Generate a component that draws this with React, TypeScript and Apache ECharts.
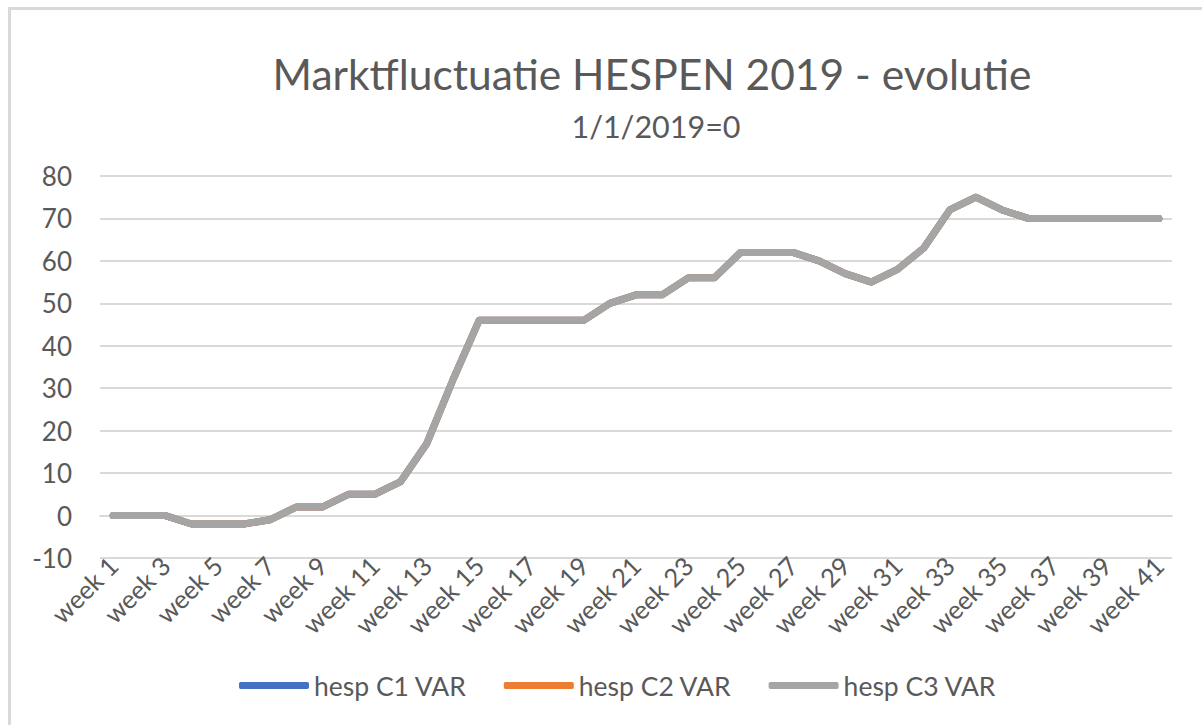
import React, { useEffect, useRef } from "react";
import * as echarts from "echarts";

const weeks: string[] = [];
for (let i = 1; i <= 41; i++) weeks.push("week " + i);

const c3Values = [0, 0, 0, -2, -2, -2, -1, 2, 2, 5, 5, 8, 17, 32, 46, 46, 46, 46, 46, 50, 52, 52, 56, 56, 62, 62, 62, 60, 57, 55, 58, 63, 72, 75, 72, 70, 70, 70, 70, 70, 70];
const c1Values = [0, 0, 0, -2, -2, -2, -1, 2, 2, 5, 5, 8, 17, 32, 46, 46, 46, 46, 46, 50, 52, 52, 56, 56, 62, 62, 62, 60, 57, 55, 58, 63, 72, 75, 72, 70, 70, 70, 70, 70, 70];
const c2Values = [0, 0, 0, -2, -2, -2, -1, 2, 2, 5, 5, 8, 17, 32, 46, 46, 46, 46, 46, 50, 52, 52, 56, 56, 62, 62, 62, 60, 57, 55, 58, 63, 72, 75, 72, 70, 70, 70, 70, 70, 70];
const seriesNames = ["hesp C1 VAR", "hesp C2 VAR", "hesp C3 VAR"];
const colors = ["#4472C4", "#ED7D31", "#A5A5A5"];

const FONT = "Lato, 'Open Sans', sans-serif";

export default function App() {
  const ref = useRef<HTMLDivElement>(null);
  useEffect(() => {
    if (!ref.current) return;
    const chart = echarts.init(ref.current, null, { renderer: "svg" });
    const data = [c1Values, c2Values, c3Values];
    chart.setOption({
      animation: false,
      backgroundColor: "#ffffff",
      textStyle: { fontFamily: FONT },
      title: [
        {
          text: "Marktfluctuatie HESPEN 2019 - evolutie",
          left: 647,
          textAlign: "center",
          top: 47,
          textStyle: { fontFamily: FONT, fontSize: 42.5, fontWeight: "normal", color: "#595959" },
        },
        {
          text: "1/1/2019=0",
          left: 651,
          textAlign: "center",
          top: 105,
          textStyle: { fontFamily: FONT, fontSize: 30.5, fontWeight: "normal", color: "#595959" },
        },
      ],
      graphic: [
        { type: "rect", shape: { x: 8, y: 7, width: 3, height: 718 }, style: { fill: "#d9d9d9" }, silent: true },
        { type: "rect", shape: { x: 8, y: 7, width: 1194, height: 3 }, style: { fill: "#d9d9d9" }, silent: true },
      ],
      legend: {
        left: 234,
        top: 667,
        icon: "roundRect",
        itemWidth: 70,
        itemHeight: 7,
        itemGap: 37,
        data: seriesNames,
        textStyle: { fontFamily: FONT, fontSize: 26.5, color: "#595959" },
      },
      grid: { left: 100, right: 30, top: 176, bottom: 167, containLabel: false },
      xAxis: {
        type: "category",
        data: weeks,
        boundaryGap: true,
        axisLine: { show: true, lineStyle: { color: "#d9d9d9", width: 2 } },
        axisTick: { show: false },
        axisLabel: {
          interval: 1,
          rotate: 45,
          margin: 3,
          fontFamily: FONT,
          fontSize: 25.5,
          color: "#595959",
        },
      },
      yAxis: {
        type: "value",
        min: -10,
        max: 80,
        interval: 10,
        axisLine: { show: false },
        axisTick: { show: false },
        splitLine: { lineStyle: { color: "#d9d9d9", width: 2 } },
        axisLabel: { margin: 28, fontFamily: FONT, fontSize: 26, color: "#595959" },
      },
      series: seriesNames.map((name, i) => ({
        name,
        type: "line",
        data: data[i],
        symbol: "none",
        smooth: false,
        itemStyle: { color: colors[i] },
        lineStyle: { color: colors[i], width: 7, cap: "round", join: "round" },
      })),
    });
    return () => chart.dispose();
  }, []);
  return <div ref={ref} style={{ position: "absolute", left: 0, top: 0, width: 1202, height: 725 }} />;
}
